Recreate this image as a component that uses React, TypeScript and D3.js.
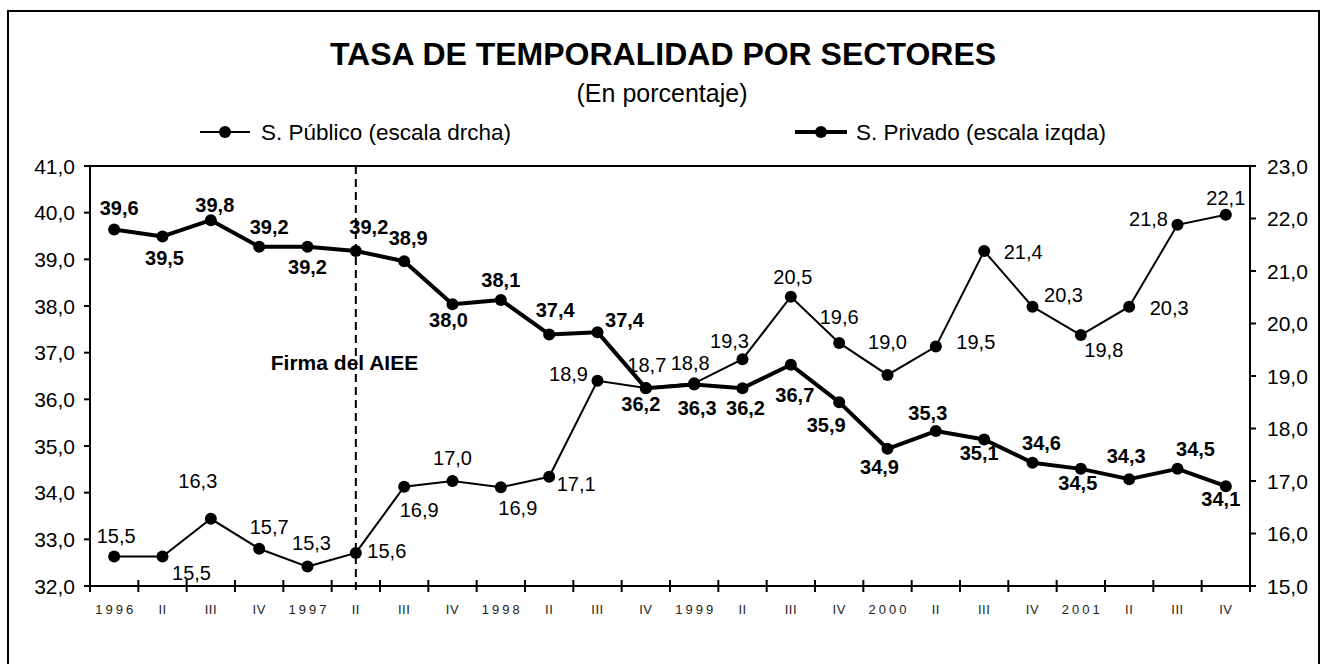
import React from 'react';
import * as d3 from 'd3';

const quarters = ["1996","II","III","IV","1997","II","III","IV","1998","II","III","IV","1999","II","III","IV","2000","II","III","IV","2001","II","III","IV"];
const privado = [39.64,39.49,39.84,39.27,39.27,39.18,38.96,38.04,38.13,37.39,37.44,36.24,36.32,36.24,36.74,35.94,34.94,35.32,35.14,34.64,34.51,34.29,34.51,34.14];
const publico = [15.56,15.56,16.28,15.71,15.37,15.63,16.89,17.0,16.88,17.08,18.91,18.77,18.86,19.32,20.51,19.63,19.02,19.56,21.38,20.32,19.78,20.32,21.88,22.07];
const privadoEtiquetas = [39.6,39.5,39.8,39.2,39.2,39.2,38.9,38.0,38.1,37.4,37.4,36.2,36.3,36.2,36.7,35.9,34.9,35.3,35.1,34.6,34.5,34.3,34.5,34.1];
const publicoEtiquetas = [15.5,15.5,16.3,15.7,15.3,15.6,16.9,17.0,16.9,17.1,18.9,18.7,18.8,19.3,20.5,19.6,19.0,19.5,21.4,20.3,19.8,20.3,21.8,22.1];
const leftTicks = [32,33,34,35,36,37,38,39,40,41];
const rightTicks = [15,16,17,18,19,20,21,22,23];
const eventIndex = 5;
const eventLabel = "Firma del AIEE";

// label placement (dx, dy of baseline relative to the point)
const privadoLabelOffsets: [number, number][] = [
  [5,-14],[2,29],[4,-8],[10,-13],[0,27],[13,-17],[4,-16],[-4,23],[0,-13],[6,-17],[27,-5],[-5,23],
  [3,31],[3,27],[4,37],[-13,30],[-8,25],[-8,-11],[-5,21],[9,-13],[-3,21],[-3,-16],[18,-13],[-5,20]
];
const publicoLabelOffsets: [number, number][] = [
  [2,-14],[29,23],[-13,-31],[10,-15],[4,-17],[31,5],[15,30],[0,-16],[17,28],[27,14],[-29,0],[1,-16],
  [-4,-13],[-13,-11],[2,-13],[0,-19],[0,-26],[40,2],[39,8],[31,-5],[23,22],[40,8],[-29,1],[0,-10]
];

const FONT = '"Liberation Sans", Arial, Helvetica, sans-serif';
const locale = d3.formatLocale({ decimal: ",", thousands: ".", grouping: [3], currency: ["", "€"] });
const fmt = locale.format(".1f");

export default function App() {
  const W = 1324, H = 664;
  const left = 90, right = 1250, top = 166, bottom = 586;
  const x = d3.scaleBand<number>().domain(d3.range(quarters.length)).range([left, right]).padding(0);
  const cx = (i: number) => (x(i) as number) + x.bandwidth() / 2;
  const yL = d3.scaleLinear().domain([32, 41]).range([bottom, top]);
  const yR = d3.scaleLinear().domain([15, 23]).range([bottom, top]);
  const linePriv = d3.line<number>().x((_, i) => cx(i)).y(d => yL(d));
  const linePub = d3.line<number>().x((_, i) => cx(i)).y(d => yR(d));
  const boundaries = d3.range(quarters.length + 1).map(i => left + i * x.bandwidth());
  const evX = cx(eventIndex);

  return (
    <svg width={W} height={H} style={{ position: 'absolute', left: 0, top: 0, background: '#fff' }} fontFamily={FONT}>
      <rect x={0} y={0} width={W} height={H} fill="#fff" />
      <rect x={8} y={11} width={1311} height={720} fill="none" stroke="#000" strokeWidth={2} />
      <text x={663} y={65} textAnchor="middle" fontSize={32} fontWeight="bold">TASA DE TEMPORALIDAD POR SECTORES</text>
      <text x={662} y={102} textAnchor="middle" fontSize={25}>(En porcentaje)</text>

      {/* legend */}
      <g>
        <line x1={200} x2={250} y1={132} y2={132} stroke="#000" strokeWidth={2} />
        <circle cx={225} cy={132} r={6} fill="#000" />
        <text x={261} y={140} fontSize={22.5}>S. Público (escala drcha)</text>
        <line x1={795} x2={847} y1={132} y2={132} stroke="#000" strokeWidth={4} />
        <circle cx={821} cy={132} r={6} fill="#000" />
        <text x={856} y={140} fontSize={22.5}>S. Privado (escala izqda)</text>
      </g>

      {/* plot frame */}
      <line x1={left} x2={right} y1={top} y2={top} stroke="#000" strokeWidth={2} />
      <line x1={left} x2={left} y1={top} y2={bottom} stroke="#000" strokeWidth={2} />
      <line x1={right} x2={right} y1={top} y2={bottom} stroke="#000" strokeWidth={2} />
      <line x1={left} x2={right} y1={bottom} y2={bottom} stroke="#000" strokeWidth={2} />

      {leftTicks.map(t => (
        <g key={'l' + t}>
          <line x1={left - 6} x2={left} y1={yL(t)} y2={yL(t)} stroke="#000" strokeWidth={2} />
          <text x={75} y={yL(t)} dy="0.36em" textAnchor="end" fontSize={21}>{fmt(t)}</text>
        </g>
      ))}
      {rightTicks.map(t => (
        <g key={'r' + t}>
          <line x1={right} x2={right + 6} y1={yR(t)} y2={yR(t)} stroke="#000" strokeWidth={2} />
          <text x={1267} y={yR(t)} dy="0.36em" textAnchor="start" fontSize={21}>{fmt(t)}</text>
        </g>
      ))}
      {boundaries.map((b, i) => (
        <line key={'b' + i} x1={b} x2={b} y1={bottom - 6} y2={bottom + 6} stroke="#000" strokeWidth={2} />
      ))}
      {quarters.map((q, i) => (
        <text key={'q' + i} x={cx(i) + (q.length === 4 ? 1.5 : 0)} y={614} textAnchor="middle" fontSize={13} fill="#222"
          letterSpacing={q.length === 4 ? 3 : 0.5}>{q}</text>
      ))}

      {/* public series */}
      <path d={linePub(publico) as string} fill="none" stroke="#000" strokeWidth={2} />
      {publico.map((v, i) => <circle key={'pc' + i} cx={cx(i)} cy={yR(v)} r={6} fill="#000" />)}
      {publico.map((v, i) => (
        <text key={'pt' + i} x={cx(i) + publicoLabelOffsets[i][0]} y={yR(v) + publicoLabelOffsets[i][1]} textAnchor="middle" fontSize={20}>
          {fmt(publicoEtiquetas[i])}
        </text>
      ))}

      {/* private series */}
      <path d={linePriv(privado) as string} fill="none" stroke="#000" strokeWidth={4} strokeLinejoin="round" />
      {privado.map((v, i) => <circle key={'vc' + i} cx={cx(i)} cy={yL(v)} r={6} fill="#000" />)}
      {privado.map((v, i) => (
        <text key={'vt' + i} x={cx(i) + privadoLabelOffsets[i][0]} y={yL(v) + privadoLabelOffsets[i][1]} textAnchor="middle" fontSize={20} fontWeight="bold">
          {fmt(privadoEtiquetas[i])}
        </text>
      ))}

      <text x={344.5} y={370} textAnchor="middle" fontSize={21} fontWeight="bold">{eventLabel}</text>
      <line x1={evX} x2={evX} y1={top} y2={bottom + 6} stroke="#000" strokeWidth={2} strokeDasharray="8,5" />
    </svg>
  );
}
